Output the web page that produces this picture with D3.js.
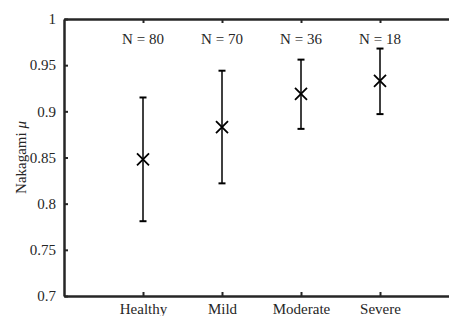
<!DOCTYPE html>
<html>
<head>
<meta charset="utf-8">
<script src="https://cdn.jsdelivr.net/npm/d3@7"></script>
<style>
  body { margin: 0; background: #fff; }
  svg { display: block; }
  svg text { font-family: "Liberation Serif", "DejaVu Serif", serif !important; }
</style>
</head>
<body>
<svg id="chart" width="449" height="316"></svg>
<script>
// groups and stats
const groups = ["Healthy", "Mild", "Moderate", "Severe"];
const counts = [80, 70, 36, 18];
const means = [0.848, 0.883, 0.919, 0.933];
const upper = [0.915, 0.944, 0.956, 0.968];
const lower = [0.781, 0.822, 0.881, 0.897];
const yTicks = [0.7, 0.75, 0.8, 0.85, 0.9, 0.95, 1];

const ink = "#262626";
const svg = d3.select("#chart");

// plot box (right edge is cut off by the picture)
const boxLeft = 64, boxRight = 459, boxTop = 19, boxBottom = 296;

const x = d3.scaleLinear().domain([0, 5]).range([boxLeft, boxRight]);
const y = d3.scaleLinear().domain([0.7, 1]).range([boxBottom, boxTop]);

const data = groups.map((g, i) => ({
  name: g, pos: i + 1, n: counts[i], mean: means[i], hi: upper[i], lo: lower[i]
}));

// axes, ticks pointing inwards
const yAxis = svg.append("g")
  .attr("transform", `translate(${boxLeft},0)`)
  .call(d3.axisLeft(y).tickValues(yTicks).tickSizeInner(-4).tickSizeOuter(0)
    .tickPadding(8).tickFormat(d => String(+d.toFixed(2))));

const xAxis = svg.append("g")
  .attr("transform", `translate(0,${boxBottom})`)
  .call(d3.axisBottom(x).tickValues(data.map(d => d.pos)).tickSizeInner(-4)
    .tickSizeOuter(0).tickFormat((d, i) => groups[i]));

const topAxis = svg.append("g")
  .attr("transform", `translate(0,${boxTop})`)
  .call(d3.axisTop(x).tickValues(data.map(d => d.pos)).tickSizeInner(-4)
    .tickSizeOuter(0).tickFormat(""));

[yAxis, xAxis, topAxis].forEach(a => {
  a.attr("font-family", null);
  a.select(".domain").attr("stroke", ink).attr("stroke-width", 2.5);
  a.selectAll(".tick line").attr("stroke", ink).attr("stroke-width", 2);
  a.selectAll(".tick text").attr("fill", ink).attr("font-size", 15);
});
// category labels sit right at the lower edge
xAxis.selectAll(".tick text").attr("y", 18).attr("dy", null);

// y label
svg.append("text")
  .attr("transform", `translate(26,${(boxTop + boxBottom) / 2}) rotate(-90)`)
  .attr("text-anchor", "middle")
  .attr("font-size", 15)
  .attr("fill", ink)
  .html('Nakagami <tspan font-style="italic">μ</tspan>');

// N labels
svg.append("g").selectAll("text")
  .data(data)
  .join("text")
  .attr("x", d => x(d.pos))
  .attr("y", 44)
  .attr("text-anchor", "middle")
  .attr("font-size", 15)
  .attr("fill", ink)
  .text(d => `N = ${d.n}`);

// error bars
const bars = svg.append("g").selectAll("g")
  .data(data)
  .join("g");

bars.append("line")
  .attr("x1", d => x(d.pos)).attr("x2", d => x(d.pos))
  .attr("y1", d => y(d.lo)).attr("y2", d => y(d.hi))
  .attr("stroke", "#000").attr("stroke-width", 1.5);

["lo", "hi"].forEach(k => {
  bars.append("line")
    .attr("x1", d => x(d.pos) - 3.5).attr("x2", d => x(d.pos) + 3.5)
    .attr("y1", d => y(d[k])).attr("y2", d => y(d[k]))
    .attr("stroke", "#000").attr("stroke-width", 2);
});

// x markers at the means
const s = 6;
bars.append("path")
  .attr("d", d => {
    const cx = x(d.pos), cy = y(d.mean);
    return `M${cx - s},${cy - s}L${cx + s},${cy + s}M${cx - s},${cy + s}L${cx + s},${cy - s}`;
  })
  .attr("stroke", "#000").attr("stroke-width", 1.8).attr("fill", "none");
</script>
</body>
</html>
